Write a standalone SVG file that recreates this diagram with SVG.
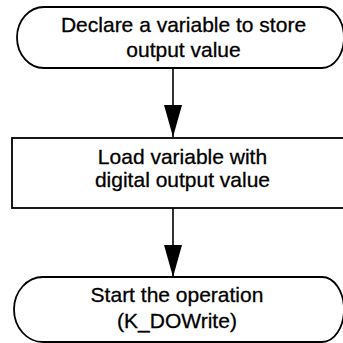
<svg xmlns="http://www.w3.org/2000/svg" width="343" height="343" viewBox="0 0 343 343">
<style>
.shape{fill:#fff;stroke:#000;stroke-width:1.8}
.conn{stroke:#000;stroke-width:1.6;fill:none}
text{font-family:"Liberation Sans",Arial,sans-serif;font-size:21px;fill:#000;text-anchor:middle;stroke:#000;stroke-width:0.3}
</style>
<defs>
<marker id="arr" markerUnits="userSpaceOnUse" markerWidth="32" markerHeight="18" refX="32" refY="9" orient="auto" viewBox="0 0 32 18">
<path d="M0,0 L32,9 L0,18 Z" fill="#000"/>
</marker>
</defs>
<rect width="343" height="343" fill="#fff"/>
<g id="connectors">
<line class="conn" x1="173" y1="68" x2="173" y2="137" marker-end="url(#arr)"/>
<line class="conn" x1="173" y1="208" x2="173" y2="277" marker-end="url(#arr)"/>
</g>
<g id="n1">
<path class="shape" d="M44,7 L322,7 A22,30.5 0 0 1 322,68 L44,68 A27,30.5 0 0 1 44,7 Z"/>
<text x="183.5" y="32">Declare a variable to store</text>
<text x="183.5" y="57">output value</text>
</g>
<g id="n2">
<rect class="shape" x="12" y="138" width="333" height="70"/>
<text x="182.5" y="164">Load variable with</text>
<text x="182.5" y="187">digital output value</text>
</g>
<g id="n3">
<path class="shape" d="M43,277 L322,277 A22,32.5 0 0 1 322,342 L43,342 A29,32.5 0 0 1 43,277 Z"/>
<text x="177" y="302">Start the operation</text>
<text x="177" y="328">(K_DOWrite)</text>
</g>
</svg>
